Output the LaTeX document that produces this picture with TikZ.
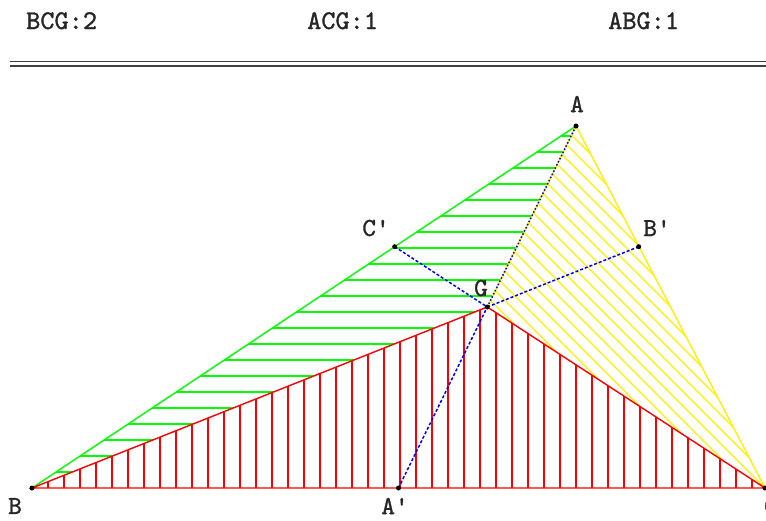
\documentclass[tikz,border=0pt]{standalone}
\usepackage{fontspec}
\newfontfamily\cour[FakeBold=1.2]{lmmono10-regular.otf}
\begin{document}
\begin{tikzpicture}[x=1pt,y=-1pt,
  lbl/.style={font=\cour\fontsize{26}{26}\selectfont, inner sep=0pt, text=black!85},
  hdr/.style={font=\cour\fontsize{27}{27}\selectfont, inner sep=0pt, text=black!85},
  hatch/.style={line width=1.25pt},
  edge/.style={line width=1.4pt},
  median/.style={blue, line width=1.5pt, dash pattern=on 3pt off 2pt},
  topmedian/.style={blue, line width=1.5pt, dash pattern=on 1.5pt off 2pt},
  pt/.style={circle, fill=black, inner sep=0pt, minimum size=5pt}]
\useasboundingbox (0,0) rectangle (766,520);
\fill[white] (0,0) rectangle (766,520);

% vertices
\coordinate (A) at (576,126);
\coordinate (B) at (32,488);
\coordinate (C) at (765,488);
\coordinate (G) at (487.25,307);
\coordinate (A1) at (398.5,488);
\coordinate (B1) at (638.7,246.7);
\coordinate (C1) at (394.7,246.7);

% header
\node[hdr, anchor=base west] (t1) at (26,29) {BCG:2};
\node[hdr, anchor=base west] (t2) at (307,29) {ACG:1};
\node[hdr, anchor=base west] (t3) at (608,29) {ABG:1};
\draw[line width=1.6pt, black!75] (10,61.5) -- (766,61.5);
\draw[line width=1.6pt, black!75] (10,65.8) -- (766,65.8);

% green triangle ABG, horizontal hatch
\begin{scope}
\clip (A) -- (B) -- (G) -- cycle;
\foreach \k in {1,...,23} {\draw[hatch, green] (0,{488-16*\k}) -- (766,{488-16*\k});}
\end{scope}
\draw[edge, green] (A) -- (B);

% yellow triangle ACG, diagonal hatch
\begin{scope}
\clip (A) -- (C) -- (G) -- cycle;
\foreach \k in {-8,...,13} {\draw[hatch, yellow] ({277+14.5*\k+80},80) -- ({277+14.5*\k+500},500);}
\end{scope}
\draw[edge, yellow] (A) -- (C);
\draw[edge, yellow] (A) -- (G);

% red triangle BCG, vertical hatch
\begin{scope}
\clip (B) -- (C) -- (G) -- cycle;
\foreach \k in {1,...,46} {\draw[hatch, red] ({32+16*\k},280) -- ({32+16*\k},490);}
\end{scope}
\draw[edge, red] (B) -- (C) -- (G) -- cycle;

% medians / cevians
\draw[median] (A1) -- (G);
\draw[topmedian] (G) -- (A);
\draw[median] (B1) -- (G);
\draw[median] (C1) -- (G);

% points
\node[pt] (pA) at (A) {};
\node[pt] (pB) at (B) {};
\node[pt] (pC) at (C) {};
\node[pt] (pG) at (G) {};
\node[pt] (pA1) at (A1) {};
\node[pt] (pB1) at (B1) {};
\node[pt] (pC1) at (C1) {};

% labels
\node[lbl] (lA) at (577,104) {A};
\node[lbl] (lB) at (15,506) {B};
\node[lbl] (lC) at (771,506) {C};
\node[lbl] (lG) at (481,288) {G};
\node[lbl] (lA1) at (395,506) {A'};
\node[lbl] (lB1) at (657,228) {B'};
\node[lbl] (lC1) at (376,228) {C'};
\end{tikzpicture}
\end{document}
